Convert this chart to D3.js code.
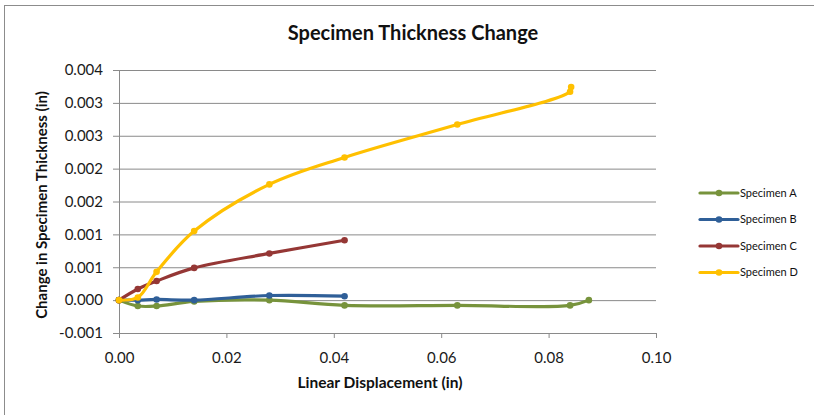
<!DOCTYPE html>
<html><head><meta charset="utf-8">
<script src="https://cdn.jsdelivr.net/npm/d3@7"></script>
<style>body{margin:0;background:#fff}svg{display:block}</style>
</head><body><svg id="chart" width="814" height="415"></svg>
<script>
// Axis ticks and their printed labels (Excel rounds to 3 decimals)
const xTicks = [0, 0.02, 0.04, 0.06, 0.08, 0.10];
const xTickLabels = ["0.00", "0.02", "0.04", "0.06", "0.08", "0.10"];
const yTicks = [-0.0005, 0, 0.0005, 0.001, 0.0015, 0.002, 0.0025, 0.003, 0.0035];
const yTickLabels = ["-0.001", "0.000", "0.001", "0.001", "0.002", "0.002", "0.003", "0.003", "0.004"];

const seriesNames = ["Specimen A", "Specimen B", "Specimen C", "Specimen D"];
const seriesColors = ["#77933c", "#2f5f98", "#953735", "#ffc000"];

// Linear displacement (in) and thickness change (in) per specimen
const dispA = [0, 0.0035, 0.007, 0.014, 0.028, 0.042, 0.063, 0.084, 0.0875];
const thickA = [0, -0.00009, -0.00009, -0.00002, 0, -0.00008, -0.00008, -0.00008, 0];
const dispB = [0, 0.0035, 0.007, 0.014, 0.028, 0.042];
const thickB = [0, 0, 0.00001, 0, 0.00007, 0.00006];
const dispC = [0, 0.0035, 0.007, 0.014, 0.028, 0.042];
const thickC = [0, 0.00017, 0.00029, 0.00049, 0.00071, 0.00091];
const dispD = [0, 0.0035, 0.007, 0.014, 0.028, 0.042, 0.063, 0.084, 0.0842];
const thickD = [0, 0.00004, 0.00043, 0.00105, 0.00176, 0.00217, 0.00267, 0.00317, 0.00324];

const series = [
  {name: seriesNames[0], color: seriesColors[0], pts: dispA.map((d, i) => [d, thickA[i]])},
  {name: seriesNames[1], color: seriesColors[1], pts: dispB.map((d, i) => [d, thickB[i]])},
  {name: seriesNames[2], color: seriesColors[2], pts: dispC.map((d, i) => [d, thickC[i]])},
  {name: seriesNames[3], color: seriesColors[3], pts: dispD.map((d, i) => [d, thickD[i]])}
];

const svg = d3.select("#chart");
const font = "Lato, 'Open Sans', sans-serif";

// chart frame
svg.append("rect").attr("x", 4.5).attr("y", 5.5).attr("width", 840).attr("height", 440)
  .attr("fill", "#fff").attr("stroke", "#8c8c8c").attr("stroke-width", 1);

const x = d3.scaleLinear().domain([0, 0.1]).range([119, 656]);
const y = d3.scaleLinear().domain([-0.0005, 0.0035]).range([333, 70]);

// horizontal gridlines
svg.append("g").attr("transform", `translate(${x(0)},0)`)
  .call(d3.axisLeft(y).tickValues(yTicks.slice(1)).tickSize(-(x(0.1) - x(0))).tickFormat(""))
  .call(g => g.select(".domain").remove())
  .call(g => g.selectAll("line").attr("stroke", "#8a8a8a").attr("stroke-width", 1));

// y axis with labels
svg.append("g").attr("transform", `translate(${x(0)},0)`)
  .call(d3.axisLeft(y).tickValues(yTicks).tickSize(6).tickPadding(10)
    .tickFormat((d, i) => yTickLabels[i]))
  .call(g => g.select(".domain").attr("stroke", "#8a8a8a"))
  .call(g => g.selectAll("line").attr("stroke", "#8a8a8a"))
  .call(g => g.selectAll("text").attr("font-family", font).attr("font-size", 15).attr("fill", "#1a1a1a"));

// x axis with labels
svg.append("g").attr("transform", `translate(0,${y(-0.0005)})`)
  .call(d3.axisBottom(x).tickValues(xTicks).tickSize(5).tickPadding(14)
    .tickFormat((d, i) => xTickLabels[i]))
  .call(g => g.select(".domain").attr("stroke", "#8a8a8a"))
  .call(g => g.selectAll("line").attr("stroke", "#8a8a8a"))
  .call(g => g.selectAll("text").attr("font-family", font).attr("font-size", 15).attr("fill", "#1a1a1a"));

// series lines and markers
const line = d3.line().x(d => x(d[0])).y(d => y(d[1])).curve(d3.curveCatmullRom.alpha(0.5));
series.forEach(s => {
  svg.append("path").datum(s.pts).attr("d", line).attr("fill", "none")
    .attr("stroke", s.color).attr("stroke-width", 3.2)
    .attr("stroke-linecap", "round").attr("stroke-linejoin", "round");
  svg.append("g").selectAll("circle").data(s.pts).join("circle")
    .attr("cx", d => x(d[0])).attr("cy", d => y(d[1])).attr("r", 3.3).attr("fill", s.color);
});

// title and axis titles
svg.append("text").attr("x", 413).attr("y", 40).attr("text-anchor", "middle")
  .attr("font-family", font).attr("font-weight", "bold").attr("font-size", 20).attr("fill", "#111")
  .text("Specimen Thickness Change");
svg.append("text").attr("transform", "translate(47,205) rotate(-90)").attr("text-anchor", "middle")
  .attr("font-family", font).attr("font-weight", "bold").attr("font-size", 15).attr("fill", "#111")
  .text("Change in Specimen Thickness (in)");
svg.append("text").attr("x", 380).attr("y", 388).attr("text-anchor", "middle")
  .attr("font-family", font).attr("font-weight", "bold").attr("font-size", 15.5).attr("fill", "#111")
  .text("Linear Displacement (in)");

// legend
const legend = svg.append("g");
const rows = [193, 219.5, 246, 272.5];
series.forEach((s, i) => {
  const g = legend.append("g").attr("transform", `translate(0,${rows[i]})`);
  g.append("line").attr("x1", 700).attr("x2", 738).attr("y1", 0).attr("y2", 0)
    .attr("stroke", s.color).attr("stroke-width", 3.2).attr("stroke-linecap", "round");
  g.append("circle").attr("cx", 719).attr("cy", 0).attr("r", 3.3).attr("fill", s.color);
  g.append("text").attr("x", 740).attr("y", 0).attr("dy", "0.35em")
    .attr("font-family", font).attr("font-size", 11).attr("fill", "#111").text(s.name);
});
</script></body></html>
